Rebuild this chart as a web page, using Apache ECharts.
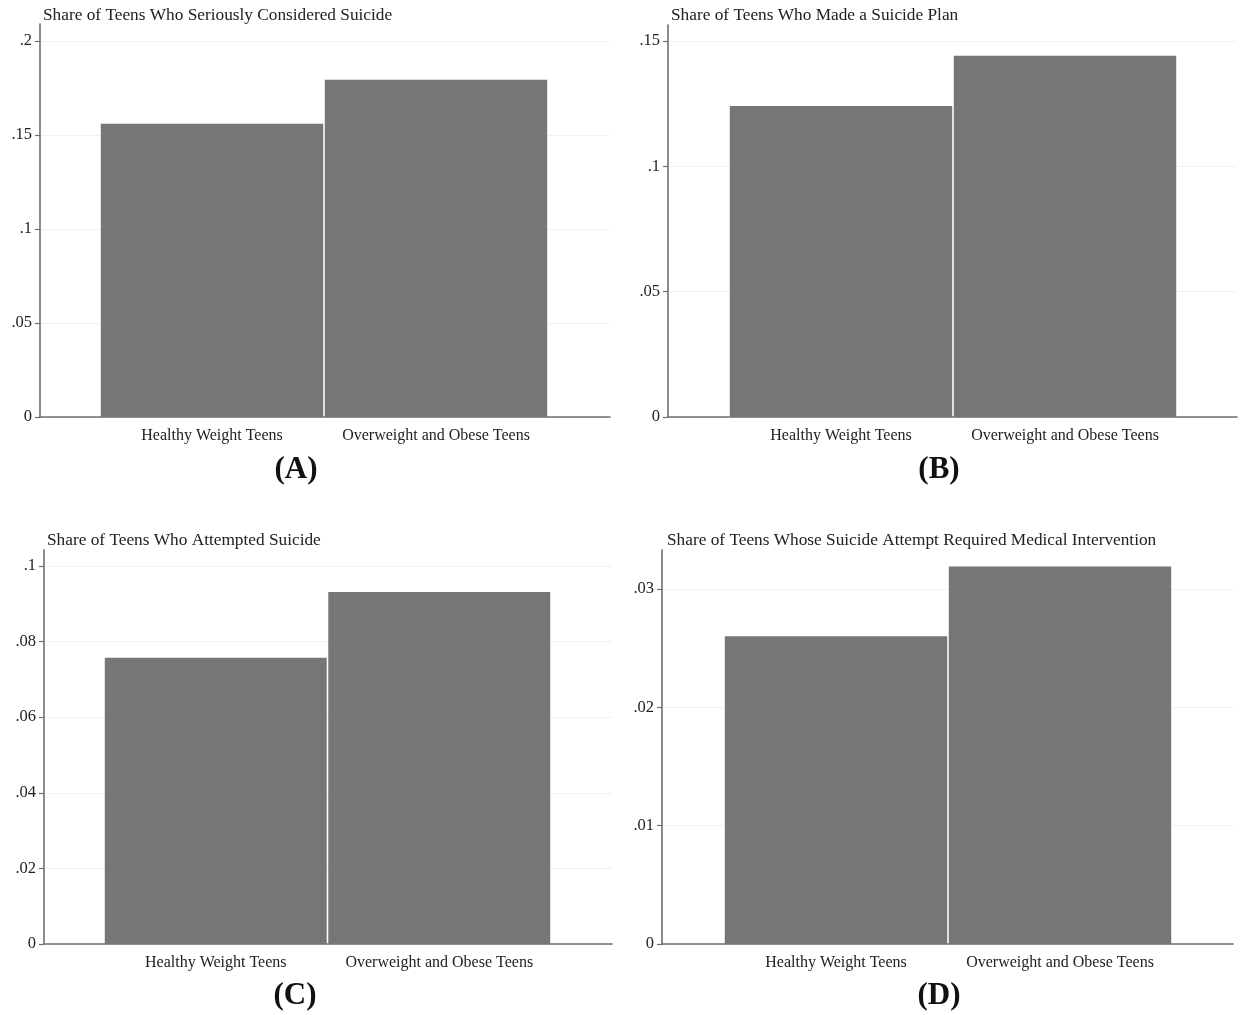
<!DOCTYPE html>
<html>
<head>
<meta charset="utf-8">
<script src="https://cdn.jsdelivr.net/npm/echarts@6/dist/echarts.min.js"></script>
<style>
html,body{margin:0;padding:0;background:#fff;}
#chart{width:1241px;height:1015px;}
</style>
</head>
<body>
<div id="chart"></div>
<script>
// ---------- data ----------
const categories = ['Healthy Weight Teens', 'Overweight and Obese Teens'];

const titleA = 'Share of Teens Who Seriously Considered Suicide';
const titleB = 'Share of Teens Who Made a Suicide Plan';
const titleC = 'Share of Teens Who Attempted Suicide';
const titleD = 'Share of Teens Whose Suicide Attempt Required Medical Intervention';

const valuesA = [0.1559, 0.1793];
const valuesB = [0.1241, 0.1441];
const valuesC = [0.0757, 0.0931];
const valuesD = [0.0260, 0.0319];

const ticksA = [0, 0.05, 0.1, 0.15, 0.2];
const tickLabelsA = ['0', '.05', '.1', '.15', '.2'];
const ticksB = [0, 0.05, 0.1, 0.15];
const tickLabelsB = ['0', '.05', '.1', '.15'];
const ticksC = [0, 0.02, 0.04, 0.06, 0.08, 0.1];
const tickLabelsC = ['0', '.02', '.04', '.06', '.08', '.1'];
const ticksD = [0, 0.01, 0.02, 0.03];
const tickLabelsD = ['0', '.01', '.02', '.03'];

const axisMaxA = 0.209;
const axisMaxB = 0.1564;
const axisMaxC = 0.1042;
const axisMaxD = 0.0333;

const panelLetters = ['(A)', '(B)', '(C)', '(D)'];

// ---------- layout ----------
const FONT = '"Liberation Serif", "Times New Roman", serif';
const AXIS_COLOR = '#6f6f6f';
const BAR_COLOR = '#767676';

const panels = [
  {title: titleA, values: valuesA, ticks: ticksA, labels: tickLabelsA, max: axisMaxA,
   frame: {left: 40, top: 24, width: 570, height: 393},
   bars: {left: 100, width: 448},
   titlePos: [43, 15], letterPos: [296, 470]},
  {title: titleB, values: valuesB, ticks: ticksB, labels: tickLabelsB, max: axisMaxB,
   frame: {left: 668, top: 25, width: 569, height: 392},
   bars: {left: 729, width: 448},
   titlePos: [671, 15], letterPos: [939, 470]},
  {title: titleC, values: valuesC, ticks: ticksC, labels: tickLabelsC, max: axisMaxC,
   frame: {left: 44, top: 550, width: 568, height: 394},
   bars: {left: 104, width: 447},
   titlePos: [47, 540], letterPos: [295, 996]},
  {title: titleD, values: valuesD, ticks: ticksD, labels: tickLabelsD, max: axisMaxD,
   frame: {left: 662, top: 550, width: 571, height: 394},
   bars: {left: 724, width: 448},
   titlePos: [667, 540], letterPos: [939, 996]}
];

const grid = [], xAxis = [], yAxis = [], series = [], graphic = [];

panels.forEach((p, i) => {
  const fi = i * 2, bi = i * 2 + 1;
  grid.push({left: p.frame.left, top: p.frame.top, width: p.frame.width, height: p.frame.height, containLabel: false});
  grid.push({left: p.bars.left, top: p.frame.top, width: p.bars.width, height: p.frame.height, containLabel: false});

  xAxis.push({
    type: 'value', gridIndex: fi, min: 0, max: 1,
    axisLine: {show: true, lineStyle: {color: AXIS_COLOR, width: 1.6}},
    axisTick: {show: false}, axisLabel: {show: false}, splitLine: {show: false}
  });
  xAxis.push({
    type: 'category', gridIndex: bi, data: categories,
    axisLine: {show: false}, axisTick: {show: false},
    axisLabel: {interval: 0, fontFamily: FONT, fontSize: 16, color: '#222', margin: 11},
    splitLine: {show: false}
  });

  const fmt = v => {
    const k = p.ticks.findIndex(t => Math.abs(t - v) < 1e-9);
    return k >= 0 ? p.labels[k] : '';
  };
  yAxis.push({
    type: 'value', gridIndex: fi, min: 0, max: p.max,
    axisLine: {show: true, lineStyle: {color: AXIS_COLOR, width: 1.6}},
    axisTick: {show: true, length: 5, customValues: p.ticks, lineStyle: {color: AXIS_COLOR, width: 1.2}},
    axisLabel: {customValues: p.ticks, formatter: fmt, fontFamily: FONT, fontSize: 16.5, color: '#222', margin: 8},
    splitLine: {show: true, lineStyle: {color: '#f1f1f1', width: 1}}
  });
  yAxis.push({
    type: 'value', gridIndex: bi, min: 0, max: p.max, show: false,
    splitLine: {show: false}
  });

  series.push({
    type: 'bar', xAxisIndex: bi, yAxisIndex: bi,
    data: p.values, barWidth: '99.3%',
    itemStyle: {color: BAR_COLOR},
    silent: true
  });

  graphic.push({
    type: 'text', x: p.titlePos[0], y: p.titlePos[1],
    style: {text: p.title, fontFamily: FONT, fontSize: 17.3, fill: '#222', textVerticalAlign: 'middle', textAlign: 'left'}
  });
  graphic.push({
    type: 'text', x: p.letterPos[0], y: p.letterPos[1],
    style: {text: panelLetters[i], fontFamily: FONT, fontSize: 31, fontWeight: 'bold', fill: '#111', textVerticalAlign: 'middle', textAlign: 'center'}
  });
});

const chart = echarts.init(document.getElementById('chart'), null, {renderer: 'canvas'});
chart.setOption({
  backgroundColor: '#ffffff',
  animation: false,
  grid, xAxis, yAxis, series, graphic
});
</script>
</body>
</html>
